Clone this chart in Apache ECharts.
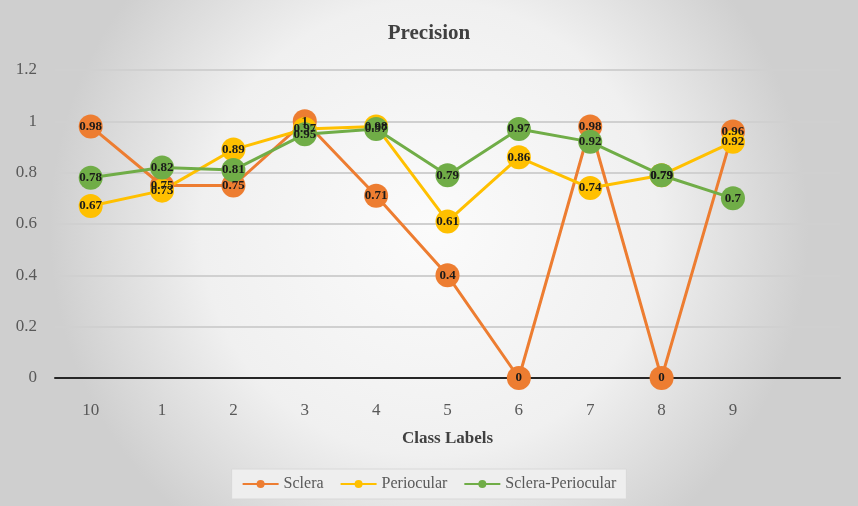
<!DOCTYPE html>
<html>
<head>
<meta charset="utf-8">
<script src="https://cdn.jsdelivr.net/npm/echarts@6/dist/echarts.min.js"></script>
<style>
  html, body { margin: 0; padding: 0; }
  #chart { width: 858px; height: 506px; }
</style>
</head>
<body>
<div id="chart"></div>
<script>
// 类别（最后一个空位）
var classLabels = ['10', '1', '2', '3', '4', '5', '6', '7', '8', '9', ''];
var scleraData = [0.98, 0.75, 0.75, 1, 0.71, 0.4, 0, 0.98, 0, 0.96];
var periocularData = [0.67, 0.73, 0.89, 0.97, 0.98, 0.61, 0.86, 0.74, 0.79, 0.92];
var scleraPeriocularData = [0.78, 0.82, 0.81, 0.95, 0.97, 0.79, 0.97, 0.92, 0.79, 0.7];
var yTicks = { min: 0, max: 1.2, interval: 0.2 };

var fontSerif = '"Liberation Serif", "DejaVu Serif", serif';
var myChart = echarts.init(document.getElementById('chart'));

function makeSeries(name, color, data) {
    return {
        name: name,
        type: 'line',
        data: data,
        symbol: 'circle',
        symbolSize: 24,
        lineStyle: { color: color, width: 3 },
        itemStyle: { color: color },
        label: {
            show: true,
            position: 'inside',
            fontFamily: fontSerif,
            fontSize: 13,
            fontWeight: 'bold',
            color: '#1a1a1a'
        },
        emphasis: { disabled: true }
    };
}

var option = {
    backgroundColor: {
        type: 'radial',
        x: 0.5, y: 0.45, r: 0.75,
        colorStops: [
            { offset: 0, color: '#fbfbfb' },
            { offset: 0.6, color: '#f0f0f0' },
            { offset: 1, color: '#cfcfcf' }
        ]
    },
    title: {
        text: 'Precision',
        left: 'center',
        top: 18,
        textStyle: {
            fontFamily: fontSerif,
            fontSize: 21,
            fontWeight: 'bold',
            color: '#404040'
        }
    },
    legend: {
        bottom: 7,
        left: 'center',
        itemWidth: 36,
        itemHeight: 10,
        itemGap: 16,
        padding: [7, 10],
        borderColor: '#d8d8d8',
        borderWidth: 1,
        backgroundColor: '#eeeeee',
        textStyle: {
            fontFamily: fontSerif,
            fontSize: 16,
            color: '#595959'
        },
        data: ['Sclera', 'Periocular', 'Sclera-Periocular']
    },
    grid: {
        left: 55,
        right: 18,
        top: 70,
        bottom: 128
    },
    xAxis: {
        type: 'category',
        data: classLabels,
        boundaryGap: true,
        name: 'Class Labels',
        nameLocation: 'middle',
        nameGap: 52,
        nameTextStyle: {
            fontFamily: fontSerif,
            fontSize: 17,
            fontWeight: 'bold',
            color: '#404040'
        },
        axisLine: { lineStyle: { color: '#262626', width: 2 } },
        axisTick: { show: false },
        axisLabel: {
            margin: 24,
            fontFamily: fontSerif,
            fontSize: 17,
            color: '#595959'
        }
    },
    yAxis: {
        type: 'value',
        min: yTicks.min,
        max: yTicks.max,
        interval: yTicks.interval,
        axisLine: { show: false },
        axisTick: { show: false },
        axisLabel: {
            margin: 18,
            fontFamily: fontSerif,
            fontSize: 17,
            color: '#595959'
        },
        splitLine: { lineStyle: { color: '#d0d0d0', width: 2 } }
    },
    series: [
        makeSeries('Sclera', '#ED7D31', scleraData),
        makeSeries('Periocular', '#FFC000', periocularData),
        makeSeries('Sclera-Periocular', '#70AD47', scleraPeriocularData)
    ]
};
myChart.setOption(option);
</script>
</body>
</html>
